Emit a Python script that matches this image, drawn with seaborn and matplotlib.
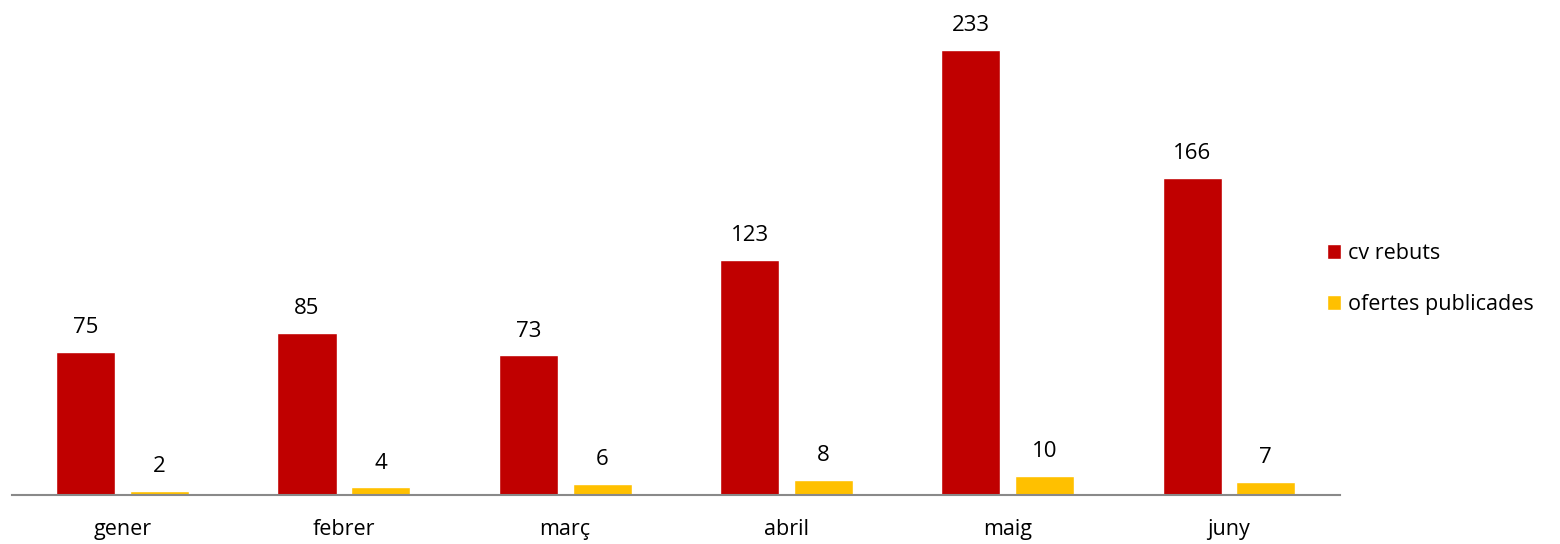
import matplotlib
matplotlib.use("Agg")
import matplotlib.pyplot as plt
import seaborn as sns
import pandas as pd

mesos = ["gener", "febrer", "març", "abril", "maig", "juny"]
cv_rebuts = [75, 85, 73, 123, 233, 166]
ofertes = [2, 4, 6, 8, 10, 7]
series = ["cv rebuts", "ofertes publicades"]
colors = ["#C00000", "#FFC000"]

df = pd.DataFrame({
    "mes": mesos * 2,
    "valor": cv_rebuts + ofertes,
    "serie": [series[0]] * len(mesos) + [series[1]] * len(mesos),
})

sns.set_style("white")
plt.rcParams["font.family"] = ["Open Sans", "DejaVu Sans"]
plt.rcParams["text.color"] = "black"
plt.rcParams["xtick.color"] = "black"

fig = plt.figure(figsize=(15.6, 5.44), dpi=100)
ax = fig.add_axes([0.0077, 0.09, 0.851, 0.882])

sns.barplot(data=df, x="mes", y="valor", hue="serie", palette=colors,
            width=0.667, gap=0.2, ax=ax, saturation=1)

for cont in ax.containers:
    ax.bar_label(cont, padding=10, fontsize=16, color="black")

ax.set_xlim(-0.5, 5.5)
ax.set_ylim(0, 251)
ax.set_xlabel("")
ax.set_ylabel("")
ax.set_yticks([])
ax.tick_params(axis="x", length=0, labelsize=15.5, pad=17, labelcolor="black")
for s in ["top", "right", "left"]:
    ax.spines[s].set_visible(False)
ax.spines["bottom"].set_color("#898989")
ax.spines["bottom"].set_linewidth(1.5)

leg = ax.legend(loc="center left", bbox_to_anchor=(0.976, 0.45), frameon=False,
                fontsize=15.5, handlelength=0.65, handleheight=0.65,
                handletextpad=0.3, labelspacing=1.4)

fig.savefig("out.png", dpi=100)
